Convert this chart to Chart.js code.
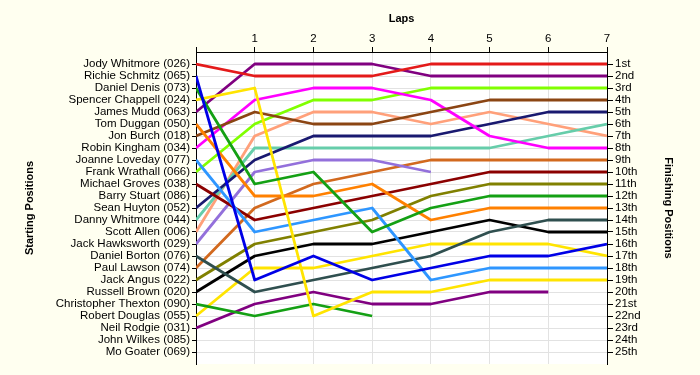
<!DOCTYPE html>
<html>
<head>
<meta charset="utf-8">
<script src="https://cdn.jsdelivr.net/npm/chart.js@4.4.1/dist/chart.umd.min.js"></script>
<style>
html,body{margin:0;padding:0;background:#FFFFF0;}
#wrap{width:700px;height:375px;position:relative;}
</style>
</head>
<body>
<div id="wrap"><canvas id="c" width="700" height="375"></canvas></div>
<script>
// Laps 0..7
const laps = [0, 1, 2, 3, 4, 5, 6, 7];

// Starting grid labels (position 1..25)
const startLabels = [
  "Jody Whitmore (026)", "Richie Schmitz (065)", "Daniel Denis (073)", "Spencer Chappell (024)",
  "James Mudd (063)", "Tom Duggan (050)", "Jon Burch (018)", "Robin Kingham (034)",
  "Joanne Loveday (077)", "Frank Wrathall (066)", "Michael Groves (038)", "Barry Stuart (086)",
  "Sean Huyton (052)", "Danny Whitmore (044)", "Scott Allen (006)", "Jack Hawksworth (029)",
  "Daniel Borton (076)", "Paul Lawson (074)", "Jack Angus (022)", "Russell Brown (020)",
  "Christopher Thexton (090)", "Robert Douglas (055)", "Neil Rodgie (031)", "John Wilkes (085)",
  "Mo Goater (069)"
];

// Finishing position labels
const finishLabels = [
  "1st","2nd","3rd","4th","5th","6th","7th","8th","9th","10th","11th","12th","13th",
  "14th","15th","16th","17th","18th","19th","20th","21st","22nd","23rd","24th","25th"
];

// Position per lap for each driver (null = not running)
const jodyWhitmore      = [1, 2, 2, 2, 1, 1, 1, 1];
const richieSchmitz     = [2, 19, 17, 19, 18, 17, 17, 16];
const danielDenis       = [3, 11, 10, 15, 13, 12, 12, 12];
const spencerChappell   = [4, 3, 22, 20, 20, 19, 19, 19];
const jamesMudd         = [5, 1, 1, 1, 2, 2, 2, 2];
const tomDuggan         = [6, 12, 12, 11, 14, 13, 13, 13];
const jonBurch          = [7, 5, 6, 6, 5, 4, 4, 4];
const robinKingham      = [8, 4, 3, 3, 4, 7, 8, 8];
const joanneLoveday     = [9, 15, 14, 13, 19, 18, 18, 18];
const frankWrathall     = [10, 6, 4, 4, 3, 3, 3, 3];
const michaelGroves     = [11, 14, 13, 12, 11, 10, 10, 10];
const barryStuart       = [12, null, null, null, null, null, null, null];
const seanHuyton        = [13, 9, 7, 7, 7, 6, 5, 5];
const dannyWhitmore     = [14, 8, 8, 8, 8, 8, 7, 6];
const scottAllen        = [15, 7, 5, 5, 6, 5, 6, 7];
const jackHawksworth    = [16, 10, 9, 9, 10, null, null, null];
const danielBorton      = [17, 20, 19, 18, 17, 15, 14, 14];
const paulLawson        = [18, 13, 11, 10, 9, 9, 9, 9];
const jackAngus         = [19, 16, 15, 14, 12, 11, 11, 11];
const russellBrown      = [20, 17, 16, 16, 15, 14, 15, 15];
const christopherThexton= [21, 22, 21, 22, null, null, null, null];
const robertDouglas     = [22, 18, 18, 17, 16, 16, 16, 17];
const neilRodgie        = [23, 21, 20, 21, 21, 20, 20, null];

const series = [
  ["Jody Whitmore", jodyWhitmore, "#E41A1A"],
  ["Richie Schmitz", richieSchmitz, "#0000E6"],
  ["Daniel Denis", danielDenis, "#14A014"],
  ["Spencer Chappell", spencerChappell, "#FFE400"],
  ["James Mudd", jamesMudd, "#800080"],
  ["Tom Duggan", tomDuggan, "#FF8000"],
  ["Jon Burch", jonBurch, "#8B4513"],
  ["Robin Kingham", robinKingham, "#FF00FF"],
  ["Joanne Loveday", joanneLoveday, "#2E96FF"],
  ["Frank Wrathall", frankWrathall, "#80FF00"],
  ["Michael Groves", michaelGroves, "#8B0000"],
  ["Barry Stuart", barryStuart, "#808080"],
  ["Sean Huyton", seanHuyton, "#191970"],
  ["Danny Whitmore", dannyWhitmore, "#66CDAA"],
  ["Scott Allen", scottAllen, "#FFA07A"],
  ["Jack Hawksworth", jackHawksworth, "#9370DB"],
  ["Daniel Borton", danielBorton, "#2F4F4F"],
  ["Paul Lawson", paulLawson, "#D2691E"],
  ["Jack Angus", jackAngus, "#808000"],
  ["Russell Brown", russellBrown, "#000000"],
  ["Christopher Thexton", christopherThexton, "#14A014"],
  ["Robert Douglas", robertDouglas, "#FFE400"],
  ["Neil Rodgie", neilRodgie, "#800080"]
];

const datasets = series.map(([name, vals, col]) => ({
  label: name,
  data: laps.map((l, i) => ({x: l, y: vals[i]})),
  borderColor: col,
  backgroundColor: col,
  borderWidth: 2.8,
  pointRadius: 0,
  pointHoverRadius: 0,
  tension: 0,
  spanGaps: false,
  fill: false,
  borderJoinStyle: 'round'
}));

const FONT = {family: "'Liberation Sans', Arial, sans-serif", size: 11.5};
const BOLD = {family: "'Liberation Sans', Arial, sans-serif", size: 11, weight: 'bold'};

const bgPlugin = {
  id: 'bg',
  beforeDraw(chart) {
    const {ctx, chartArea: a} = chart;
    ctx.save();
    ctx.fillStyle = '#FFFFF0';
    ctx.fillRect(0, 0, chart.width, chart.height);
    ctx.fillStyle = '#FFFFFF';
    ctx.fillRect(a.left, a.top, a.right - a.left, a.bottom - a.top);
    ctx.restore();
  }
};

const posTicks = (scale) => {
  scale.ticks = [];
  for (let p = 1; p <= 25; p++) scale.ticks.push({value: p});
};

new Chart(document.getElementById('c'), {
  type: 'line',
  data: {datasets},
  plugins: [bgPlugin],
  options: {
    responsive: false,
    animation: false,
    events: [],
    layout: {padding: {left: 0, right: 0, top: 0, bottom: 11}},
    plugins: {legend: {display: false}, tooltip: {enabled: false}},
    scales: {
      x: {
        type: 'linear',
        position: 'top',
        min: 0, max: 7,
        afterBuildTicks: (s) => { s.ticks = laps.map(v => ({value: v})); },
        afterFit: (s) => { s.height = 52; },
        ticks: {
          font: FONT, color: '#000', padding: 1, maxRotation: 0,
          callback: (v) => v === 0 ? '' : String(v)
        },
        grid: {color: '#E2E2E2', lineWidth: 1, tickLength: 5, tickColor: '#000', drawTicks: true},
        border: {display: true, color: '#000', width: 1},
        title: {display: true, text: 'Laps', font: BOLD, color: '#000', padding: {top: 12, bottom: 0}}
      },
      y: {
        type: 'linear',
        position: 'left',
        reverse: true,
        min: 0, max: 26,
        afterBuildTicks: posTicks,
        afterFit: (s) => { s.width = 196; },
        ticks: {
          font: FONT, color: '#000', padding: 2, autoSkip: false,
          callback: (v) => startLabels[v - 1] || ''
        },
        grid: {color: '#E2E2E2', lineWidth: 1, tickLength: 4, tickColor: '#000'},
        border: {display: true, color: '#000', width: 1},
        title: {display: true, text: 'Starting Positions', font: BOLD, color: '#000', padding: {top: 23, bottom: 0}}
      },
      y2: {
        type: 'linear',
        position: 'right',
        reverse: true,
        min: 0, max: 26,
        afterBuildTicks: posTicks,
        afterFit: (s) => { s.width = 93; },
        ticks: {
          font: FONT, color: '#000', padding: 2, autoSkip: false,
          callback: (v) => finishLabels[v - 1] || ''
        },
        grid: {drawOnChartArea: false, tickLength: 6, tickColor: '#000'},
        border: {display: true, color: '#000', width: 1},
        title: {display: true, text: 'Finishing Positions', font: BOLD, color: '#000', padding: {top: 25, bottom: 0}}
      }
    }
  }
});
</script>
</body>
</html>
